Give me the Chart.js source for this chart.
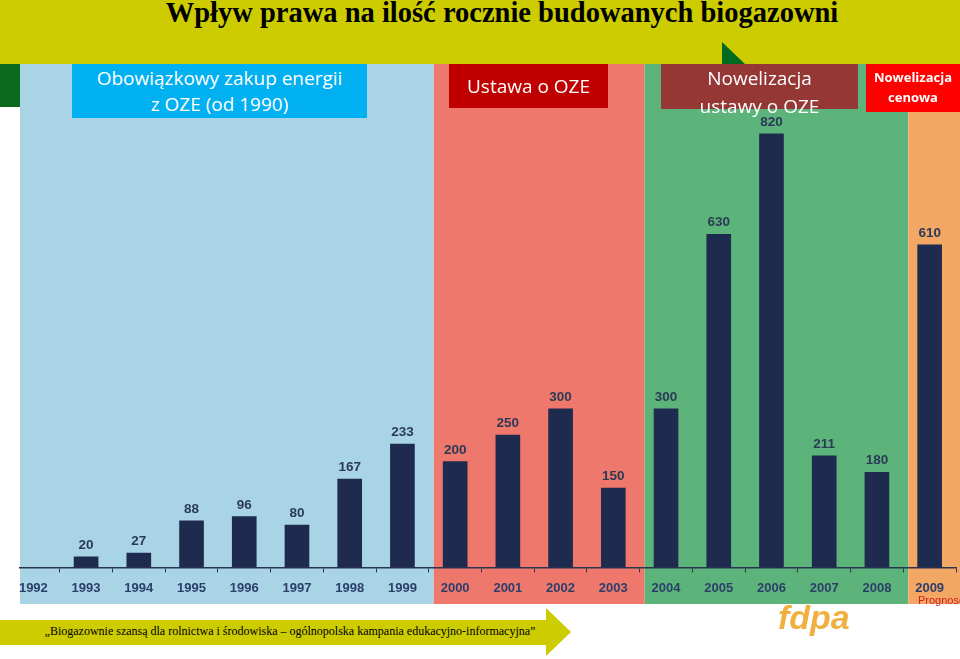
<!DOCTYPE html>
<html>
<head>
<meta charset="utf-8">
<script src="https://cdn.jsdelivr.net/npm/chart.js@4/dist/chart.umd.min.js"></script>
<style>
  html, body { margin: 0; padding: 0; background: #fff; }
  body { width: 960px; height: 659px; position: relative; overflow: hidden; font-family: 'Open Sans', sans-serif; }
  #top { position: absolute; left: 0; top: 0; width: 960px; height: 64px; background: #cccc00; }
  #title { position: absolute; left: 0; top: -3px; width: 1004px; text-align: center; font-family: 'Liberation Serif', serif; font-weight: bold; font-size: 28.5px; line-height: 32px; color: #000; }
  #greenTri { position: absolute; left: 722px; top: 42px; width: 24px; height: 23px; background: #006b1f; clip-path: polygon(0 0, 100% 100%, 0 100%); }
  #greenBlock { position: absolute; left: 0; top: 64px; width: 20px; height: 43px; background: #0b6a1c; }
  #wrap { position: absolute; left: 0; top: 64px; width: 960px; height: 540px; }
  #leftMask { position: absolute; left: 0; top: 564px; width: 19px; height: 10px; background: #fff; }
  .box { position: absolute; color: #fff; text-align: center; }
  #b1 { left: 72px; top: 64px; width: 295px; height: 53px; background: #00b0f0; font-size: 19px; line-height: 26px; padding-top: 1px; }
  #b2 { left: 449px; top: 64px; width: 159px; height: 44px; background: #c00000; font-size: 19px; line-height: 44px; }
  #b3 { left: 661px; top: 64px; width: 197px; height: 45px; background: #953735; font-size: 19px; line-height: 28px; }
  #b4 { left: 866px; top: 64px; width: 94px; height: 45px; background: #ff0000; font-size: 13px; font-weight: bold; line-height: 20px; padding-top: 3px; }
  #progn { position: absolute; left: 918px; top: 594px; font-family: 'Liberation Sans', sans-serif; font-size: 11px; color: #d02020; }
  #foot { position: absolute; left: 0; top: 620px; width: 548px; height: 25px; background: #cccc00; }
  #arrow { position: absolute; left: 546px; top: 608px; width: 25px; height: 48px; background: #cccc00; clip-path: polygon(0 0, 100% 50%, 0 100%); }
  #footText { position: absolute; left: 20px; top: 624px; width: 540px; text-align: center; white-space: nowrap; font-family: 'Liberation Serif', serif; font-size: 12px; color: #000; }
  #logo { position: absolute; left: 778px; top: 598px; font-family: 'Liberation Sans', sans-serif; font-style: italic; font-weight: bold; font-size: 34px; color: #f0b040; }
</style>
</head>
<body>
<div id="top"><div id="title">Wpływ prawa na ilość rocznie budowanych biogazowni</div></div>
<div id="greenTri"></div>
<div id="greenBlock"></div>
<div id="wrap"><canvas id="chart" width="960" height="540"></canvas></div>
<div id="leftMask"></div>
<div class="box" id="b1">Obowiązkowy zakup energii<br>z OZE (od 1990)</div>
<div class="box" id="b2">Ustawa o OZE</div>
<div class="box" id="b3">Nowelizacja<br>ustawy o OZE</div>
<div class="box" id="b4">Nowelizacja<br>cenowa</div>
<div id="progn">Prognose</div>
<div id="foot"></div>
<div id="arrow"></div>
<div id="footText">„Biogazownie szansą dla rolnictwa i środowiska – ogólnopolska kampania edukacyjno-informacyjna”</div>
<div id="logo">fdpa</div>
<script>
const years = ['1992', '1993', '1994', '1995', '1996', '1997', '1998', '1999', '2000',
  '2001', '2002', '2003', '2004', '2005', '2006', '2007', '2008', '2009'];
const plants = [null, 20, 27, 88, 96, 80, 167, 233, 200, 250, 300, 150, 300, 630, 820, 211, 180, 610];

// okresy prawne: indeks pierwszego roku i kolor tła
const periodStart = [0, 8, 12, 17];
const periodColors = ['#a9d4e6', '#ef786c', '#5db47b', '#f2a765'];

const navy = '#1e2b4f';

const bands = {
  id: 'bands',
  beforeDraw(chart) {
    const { ctx, scales: { x } } = chart;
    const half = (x.getPixelForValue(1) - x.getPixelForValue(0)) / 2;
    ctx.save();
    periodStart.forEach((s, i) => {
      const left = i === 0 ? 20 : x.getPixelForValue(s) - half + 5;
      const right = i === periodStart.length - 1 ? chart.width : x.getPixelForValue(periodStart[i + 1]) - half + 5;
      ctx.fillStyle = periodColors[i];
      ctx.fillRect(left, 0, right - left, chart.height);
    });
    ctx.restore();
  }
};

const valueLabels = {
  id: 'valueLabels',
  afterDatasetsDraw(chart) {
    const { ctx } = chart;
    const meta = chart.getDatasetMeta(0);
    ctx.save();
    ctx.font = 'bold 13.5px "Liberation Sans", sans-serif';
    ctx.fillStyle = '#2b3a55';
    ctx.textAlign = 'center';
    ctx.textBaseline = 'bottom';
    meta.data.forEach((bar, i) => {
      if (plants[i] == null) return;
      ctx.fillText(String(plants[i]), bar.x, bar.y - 5);
    });
    ctx.restore();
  }
};

new Chart(document.getElementById('chart'), {
  type: 'bar',
  data: {
    labels: years,
    datasets: [{ data: plants, backgroundColor: navy, barThickness: 24 }],
  },
  options: {
    responsive: false,
    animation: false,
    layout: { padding: { left: 7, right: 4, top: 0, bottom: 0 } },
    plugins: { legend: { display: false }, tooltip: { enabled: false } },
    scales: {
      x: {
        offset: true,
        border: { color: '#2a3550', width: 1.5 },
        grid: { offset: true, drawOnChartArea: false, tickLength: 5, color: '#2a3550' },
        ticks: { color: '#2c3e6a', padding: 8, font: { family: 'Liberation Sans', weight: 'bold', size: 13 } },
      },
      y: { display: false, min: 0, max: 952 },
    },
  },
  plugins: [bands, valueLabels],
});
</script>
</body>
</html>
